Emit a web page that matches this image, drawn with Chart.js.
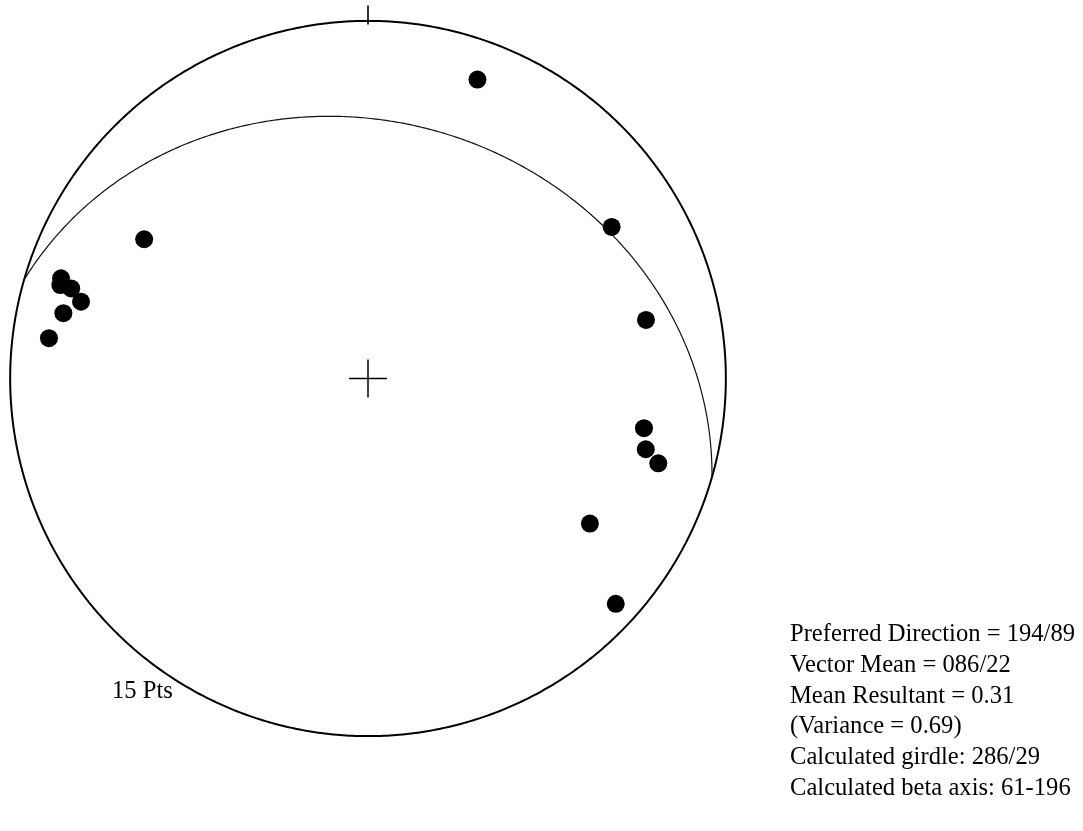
<!DOCTYPE html>
<html>
<head>
<meta charset="utf-8">
<title>Equal-area stereonet – 15 Pts</title>
<script src="https://cdn.jsdelivr.net/npm/chart.js@4.4.1/dist/chart.umd.min.js"></script>
<style>
  html, body { margin: 0; padding: 0; background: #fff; }
  #wrap { position: relative; width: 1083px; height: 831px; overflow: hidden; }
  canvas { position: absolute; left: 0; top: 0; }
  .note {
    position: absolute;
    font-family: "Liberation Serif", "Times New Roman", serif;
    font-size: 24.6px;
    line-height: 30.8px;
    color: #000;
    white-space: pre;
  }
</style>
</head>
<body>
<div id="wrap">
  <canvas id="net" width="1083" height="831"></canvas>
  <div class="note" id="count" style="left:112px; top:675px;"></div>
  <div class="note" id="stats" style="left:790px; top:618px;"></div>
</div>
<script>
// Measured lineations: trend (degrees azimuth) and plunge (degrees), lower hemisphere
const trends  = [20.1, 301.9, 58.1, 78.1, 100.2, 104.3, 106.3, 123.2, 132.3,
                 288.1, 286.9, 286.9, 285.0, 282.1, 277.2];
const plunges = [12.0, 27.2, 20.9, 21.7, 22.7, 21.0, 16.6, 26.8, 7.1,
                 10.7, 11.1, 14.4, 18.1, 14.0, 11.1];

// Best-fit girdle (strike / dip, right-hand rule)
const girdleStrike = 286;
const girdleDip = 29;

// Summary lines printed beside the net
const statLines = [
  "Preferred Direction = 194/89",
  "Vector Mean = 086/22",
  "Mean Resultant = 0.31",
  "(Variance = 0.69)",
  "Calculated girdle: 286/29",
  "Calculated beta axis: 61-196"
];

const rad = Math.PI / 180;

// Schmidt (equal-area) projection of a line, unit primitive radius
function project(trend, plunge) {
  const r = Math.SQRT2 * Math.sin((90 - plunge) * rad / 2);
  return { x: r * Math.sin(trend * rad), y: r * Math.cos(trend * rad) };
}

// Great circle of a plane: sweep lines lying in the plane from strike to strike+180
function greatCircle(strike, dip) {
  const s = [Math.sin(strike * rad), Math.cos(strike * rad), 0];
  const dd = (strike + 90) * rad;
  const d = [Math.sin(dd) * Math.cos(dip * rad), Math.cos(dd) * Math.cos(dip * rad), Math.sin(dip * rad)];
  const pts = [];
  for (let a = 0; a <= 180; a += 1) {
    const ca = Math.cos(a * rad), sa = Math.sin(a * rad);
    const v = [ca * s[0] + sa * d[0], ca * s[1] + sa * d[1], ca * s[2] + sa * d[2]];
    const pl = Math.asin(Math.max(-1, Math.min(1, v[2]))) / rad;
    const tr = Math.atan2(v[0], v[1]) / rad;
    pts.push(project(tr, pl));
  }
  return pts;
}

// Primitive circle
const primitive = [];
for (let a = 0; a <= 360; a += 1) {
  primitive.push({ x: Math.sin(a * rad), y: Math.cos(a * rad) });
}

const poles = trends.map((t, i) => project(t, plunges[i]));

// A tiny tension keeps Chart.js off its pixel-column fast path, so steep arcs stay smooth
const smooth = 0.0001;

function segment(p, q, width) {
  return {
    type: 'scatter', data: [p, q], showLine: true,
    borderColor: '#000', borderWidth: width, pointRadius: 0,
    clip: false, order: 3
  };
}

const crossArm = 0.053;
new Chart(document.getElementById('net'), {
  type: 'scatter',
  data: {
    datasets: [
      {
        label: 'lineations', data: poles,
        backgroundColor: '#000', borderColor: '#000', borderWidth: 0,
        pointRadius: 9, pointHoverRadius: 9, clip: false, order: 0
      },
      {
        label: 'primitive', data: primitive, showLine: true, tension: smooth,
        borderColor: '#000', borderWidth: 2, pointRadius: 0, clip: false, order: 2
      },
      {
        label: 'girdle', data: greatCircle(girdleStrike, girdleDip), showLine: true, tension: smooth,
        borderColor: '#111', borderWidth: 1.2, pointRadius: 0, clip: false, order: 1
      },
      // north tick
      segment({ x: 0, y: 0.99 }, { x: 0, y: 1.043 }, 1.6),
      // centre cross
      segment({ x: -crossArm, y: 0 }, { x: crossArm, y: 0 }, 1.5),
      segment({ x: 0, y: -crossArm }, { x: 0, y: crossArm }, 1.5)
    ]
  },
  options: {
    responsive: false,
    animation: false,
    events: [],
    layout: { autoPadding: false, padding: { left: 3, right: 350, top: 3, bottom: 77 } },
    elements: { line: { capBezierPoints: false } },
    plugins: { legend: { display: false }, tooltip: { enabled: false } },
    scales: {
      x: { type: 'linear', min: -1.02, max: 1.02, display: false },
      y: { type: 'linear', min: -1.05, max: 1.05, display: false }
    }
  }
});

document.getElementById('count').textContent = poles.length + " Pts";
document.getElementById('stats').textContent = statLines.join("\n");
</script>
</body>
</html>
